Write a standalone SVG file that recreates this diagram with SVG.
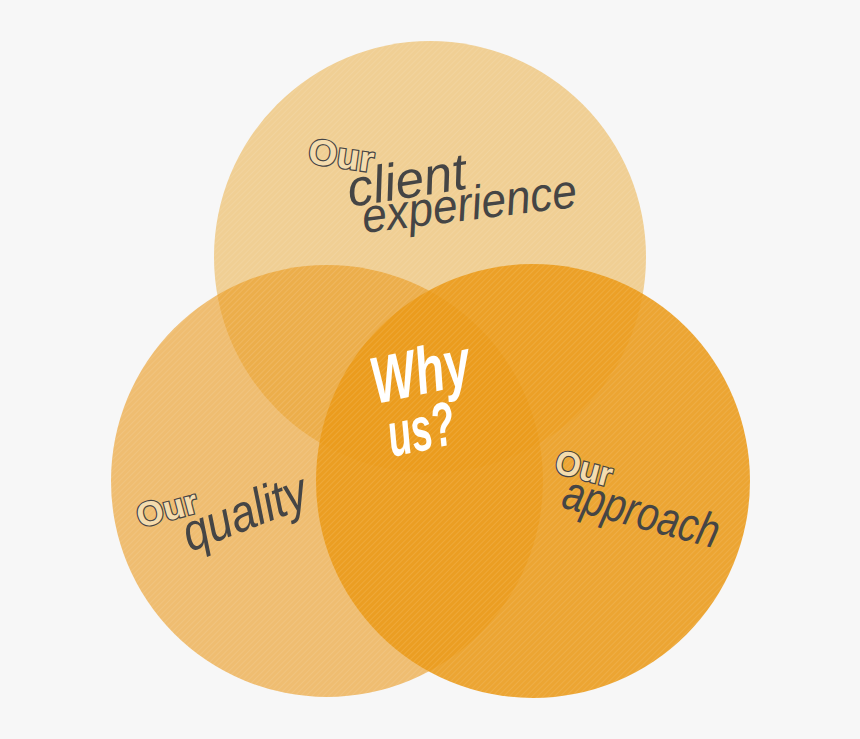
<svg xmlns="http://www.w3.org/2000/svg" width="860" height="739" viewBox="0 0 860 739">
  <defs>
    <pattern id="hatch" width="4" height="4" patternUnits="userSpaceOnUse" patternTransform="rotate(45)">
      <rect width="4" height="4" fill="none"/>
      <line x1="0" y1="0" x2="0" y2="4" stroke="#ffffff" stroke-opacity="0.12" stroke-width="1.5"/>
    </pattern>
    <style>
      .lbl { font-family: "Liberation Sans", "DejaVu Sans", sans-serif; font-style: italic; fill: #454545; }
      .our { font-family: "Liberation Sans", "DejaVu Sans", sans-serif; font-weight: bold; fill: #f4dcae; stroke: #454545; stroke-width: 2.4; paint-order: stroke; }
      .why { font-family: "Liberation Sans", "DejaVu Sans", sans-serif; font-style: italic; font-weight: bold; fill: #ffffff; }
    </style>
  </defs>
  <rect width="860" height="739" fill="#f7f7f7"/>

  <g id="circle-client">
    <circle cx="430" cy="257" r="216" fill="#f0cf94"/>
    <circle cx="430" cy="257" r="216" fill="url(#hatch)"/>
  </g>
  <g id="circle-quality">
    <circle cx="327" cy="481" r="216" fill="#ea9a1f" fill-opacity="0.62"/>
    <circle cx="327" cy="481" r="216" fill="url(#hatch)"/>
  </g>
  <g id="circle-approach">
    <circle cx="533" cy="481" r="217" fill="#ea9a18" fill-opacity="0.88"/>
    <circle cx="533" cy="481" r="217" fill="url(#hatch)"/>
  </g>

  <g id="node-client">
    <text class="our" transform="translate(307,163) rotate(8)" font-size="36" textLength="66" lengthAdjust="spacingAndGlyphs">Our</text>
    <text class="lbl" transform="translate(350,207) rotate(-9)" font-size="52" textLength="120" lengthAdjust="spacingAndGlyphs">client</text>
    <text class="lbl" transform="translate(364,233) rotate(-7)" font-size="48" textLength="216" lengthAdjust="spacingAndGlyphs">experience</text>
  </g>

  <g id="node-why">
    <text class="why" transform="translate(376,404) rotate(-12)" font-size="66" textLength="100" lengthAdjust="spacingAndGlyphs">Why</text>
    <text class="why" transform="translate(392,457) rotate(-12)" font-size="62" textLength="68" lengthAdjust="spacingAndGlyphs">us?</text>
  </g>

  <g id="node-quality">
    <text class="our" transform="translate(140,528) rotate(-15)" font-size="34" textLength="62" lengthAdjust="spacingAndGlyphs">Our</text>
    <text class="lbl" transform="translate(190,552) rotate(-21)" font-size="52" textLength="130" lengthAdjust="spacingAndGlyphs">quality</text>
  </g>

  <g id="node-approach">
    <text class="our" transform="translate(553,472) rotate(15)" font-size="34" textLength="58" lengthAdjust="spacingAndGlyphs">Our</text>
    <text class="lbl" transform="translate(560,507) rotate(15)" font-size="48" textLength="160" lengthAdjust="spacingAndGlyphs">approach</text>
  </g>

  <g id="connectors"/>
</svg>
